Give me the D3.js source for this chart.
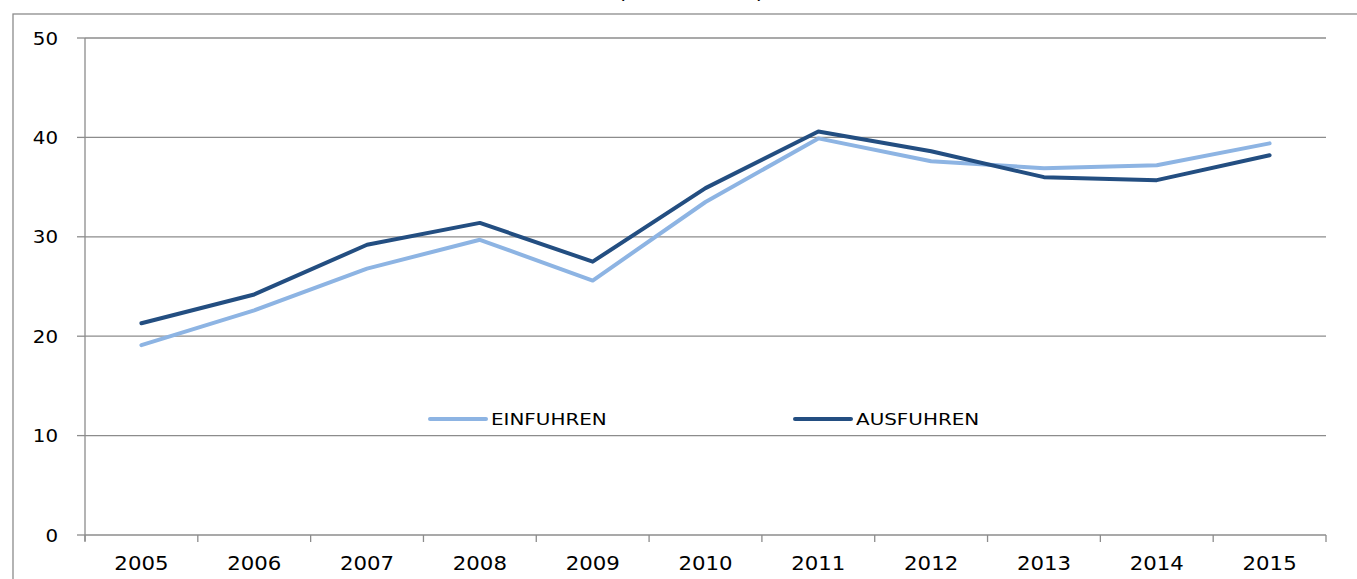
<!DOCTYPE html>
<html>
<head>
<meta charset="utf-8">
<script src="https://cdn.jsdelivr.net/npm/d3@7"></script>
<style>
  html, body { margin: 0; padding: 0; background: #fff; overflow: hidden; }
  svg { display: block; font-family: "DejaVu Sans", Verdana, sans-serif; }
  .grid line { stroke: #8c8c8c; stroke-width: 1.3; }
  .axis path, .axis line { stroke: #8c8c8c; stroke-width: 1.3; fill: none; }
  .label { fill: #000; }
</style>
</head>
<body>
<svg id="chart" width="1357" height="579"></svg>
<script>
// Chart data
const years = ["2005", "2006", "2007", "2008", "2009", "2010", "2011", "2012", "2013", "2014", "2015"];
const einfuhren = [19.1, 22.6, 26.8, 29.7, 25.6, 33.5, 39.9, 37.6, 36.9, 37.2, 39.4];
const ausfuhren = [21.3, 24.2, 29.2, 31.4, 27.5, 34.9, 40.6, 38.6, 36.0, 35.7, 38.2];
const yTicks = [0, 10, 20, 30, 40, 50];
const seriesNames = ["EINFUHREN", "AUSFUHREN"];
const seriesColors = ["#8db4e3", "#234e81"];
const titleText = "(in Mrd. EUR)";

const svg = d3.select("#chart");
const plot = { left: 85, right: 1326, top: 38, bottom: 535 };

// Outer chart border (runs past the right and bottom edge of the frame)
svg.append("rect")
  .attr("x", 13).attr("y", 14)
  .attr("width", 1400).attr("height", 700)
  .attr("fill", "none").attr("stroke", "#8c8c8c").attr("stroke-width", 1.3);

// Title, mostly cut off at the top (as in the reference)
svg.append("text")
  .attr("class", "label")
  .attr("transform", "translate(691, -1) scale(1.24, 1)")
  .attr("text-anchor", "middle")
  .attr("font-size", 18)
  .text(titleText);

const x = d3.scaleBand().domain(years).range([plot.left, plot.right]);
const y = d3.scaleLinear().domain([0, 50]).range([plot.bottom, plot.top]);

// Horizontal gridlines
svg.append("g").attr("class", "grid")
  .selectAll("line").data(yTicks.filter((d) => d > 0)).join("line")
  .attr("x1", plot.left).attr("x2", plot.right)
  .attr("y1", (d) => y(d)).attr("y2", (d) => y(d));

// Y axis: line + outward ticks
const yAxisG = svg.append("g").attr("class", "axis");
yAxisG.append("line")
  .attr("x1", plot.left).attr("x2", plot.left)
  .attr("y1", plot.top).attr("y2", plot.bottom + 6);
yAxisG.selectAll("line.tick").data(yTicks).join("line").attr("class", "tick")
  .attr("x1", plot.left - 8).attr("x2", plot.left)
  .attr("y1", (d) => y(d)).attr("y2", (d) => y(d));
svg.append("g").selectAll("text").data(yTicks).join("text")
  .attr("class", "label")
  .attr("font-size", 18)
  .attr("text-anchor", "end")
  .attr("transform", (d) => `translate(58, ${y(d) + 6.5}) scale(1.1, 1)`)
  .text((d) => d);

// X axis: line + tick marks at category boundaries
const xAxisG = svg.append("g").attr("class", "axis");
xAxisG.append("line")
  .attr("x1", plot.left).attr("x2", plot.right)
  .attr("y1", plot.bottom).attr("y2", plot.bottom);
const boundaries = years.map((d) => x(d)).concat([plot.right]);
xAxisG.selectAll("line.tick").data(boundaries).join("line").attr("class", "tick")
  .attr("x1", (d) => d).attr("x2", (d) => d)
  .attr("y1", plot.bottom).attr("y2", plot.bottom + 7);
svg.append("g").selectAll("text").data(years).join("text")
  .attr("class", "label")
  .attr("font-size", 19)
  .attr("text-anchor", "middle")
  .attr("transform", (d) => `translate(${x(d) + x.bandwidth() / 2}, 570) scale(1.12, 1)`)
  .text((d) => d);

// Lines
const line = d3.line()
  .x((d, i) => x(years[i]) + x.bandwidth() / 2)
  .y((d) => y(d));

[einfuhren, ausfuhren].forEach((values, i) => {
  svg.append("path")
    .datum(values)
    .attr("fill", "none")
    .attr("stroke", seriesColors[i])
    .attr("stroke-width", 4)
    .attr("stroke-linejoin", "round")
    .attr("stroke-linecap", "round")
    .attr("d", line);
});

// Legend inside the plot
const legendItems = [{ x: 430 }, { x: 795 }];
const legend = svg.append("g").selectAll("g").data(seriesNames).join("g")
  .attr("transform", (d, i) => `translate(${legendItems[i].x}, 419)`);
legend.append("line")
  .attr("x1", 0).attr("x2", 56)
  .attr("stroke", (d, i) => seriesColors[i])
  .attr("stroke-width", 4)
  .attr("stroke-linecap", "round");
legend.append("text")
  .attr("class", "label")
  .attr("font-size", 15)
  .attr("transform", "translate(61, 6) scale(1.33, 1)")
  .text((d) => d);
</script>
</body>
</html>
